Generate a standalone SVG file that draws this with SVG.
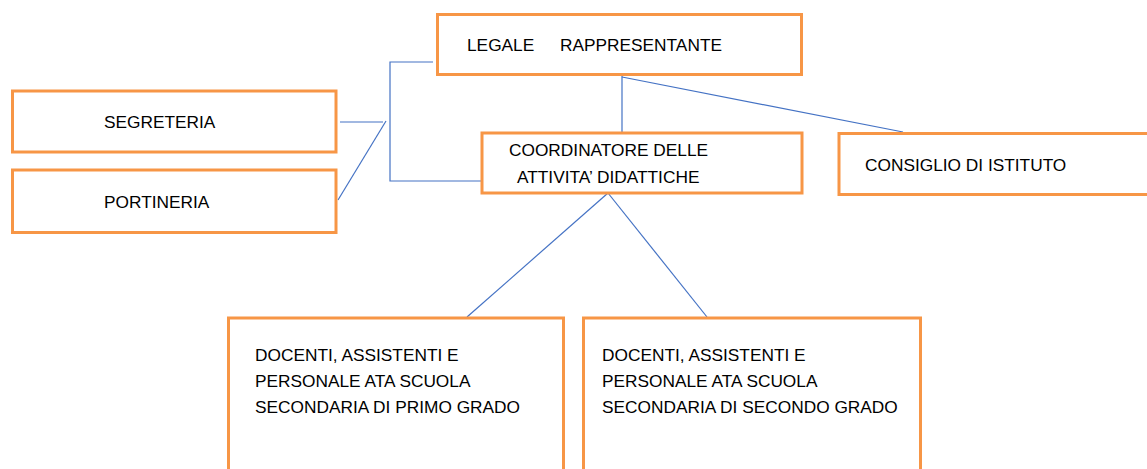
<svg xmlns="http://www.w3.org/2000/svg" width="1147" height="469" viewBox="0 0 1147 469">
<style>
.box{fill:#fff;stroke:#F79646;stroke-width:3}
.lbl{font-family:"Liberation Sans",Arial,sans-serif;font-size:17.3px;fill:#000}
.con{fill:none;stroke:#4472C4;stroke-width:1.2}
</style>
<rect width="1147" height="469" fill="#fff"/>
<g id="connectors">
<line class="con" x1="622" y1="76" x2="622" y2="132"/>
<line class="con" x1="622" y1="77" x2="903" y2="132"/>
<polyline class="con" points="433,62 390,62 390,181 481,181"/>
<line class="con" x1="340" y1="122" x2="383" y2="122"/>
<line class="con" x1="386" y1="121" x2="338" y2="200"/>
<line class="con" x1="608" y1="193" x2="467" y2="317"/>
<line class="con" x1="608" y1="193" x2="707" y2="317"/>
</g>
<g id="legale">
<rect class="box" x="437.5" y="14.5" width="364" height="60"/>
<text class="lbl" x="467" y="51">LEGALE</text>
<text class="lbl" x="560" y="51">RAPPRESENTANTE</text>
</g>
<g id="segreteria">
<rect class="box" x="12.5" y="91" width="323.5" height="61"/>
<text class="lbl" x="104" y="128">SEGRETERIA</text>
</g>
<g id="portineria">
<rect class="box" x="12.5" y="170" width="323.5" height="62.5"/>
<text class="lbl" x="104" y="208">PORTINERIA</text>
</g>
<g id="coordinatore">
<rect class="box" x="482" y="133" width="320" height="60"/>
<text class="lbl" x="509" y="156">COORDINATORE DELLE</text>
<text class="lbl" x="517" y="183">ATTIVITA’ DIDATTICHE</text>
</g>
<g id="consiglio">
<rect class="box" x="839" y="133.5" width="320" height="61"/>
<text class="lbl" x="865" y="171">CONSIGLIO DI ISTITUTO</text>
</g>
<g id="primo-grado">
<rect class="box" x="228.5" y="318" width="335" height="170"/>
<text class="lbl" x="255" y="361">DOCENTI, ASSISTENTI E</text>
<text class="lbl" x="255" y="387">PERSONALE ATA SCUOLA</text>
<text class="lbl" x="255" y="413">SECONDARIA DI PRIMO GRADO</text>
</g>
<g id="secondo-grado">
<rect class="box" x="583.5" y="318" width="337" height="170"/>
<text class="lbl" x="602" y="361">DOCENTI, ASSISTENTI E</text>
<text class="lbl" x="602" y="387">PERSONALE ATA SCUOLA</text>
<text class="lbl" x="602" y="413">SECONDARIA DI SECONDO GRADO</text>
</g>
</svg>
